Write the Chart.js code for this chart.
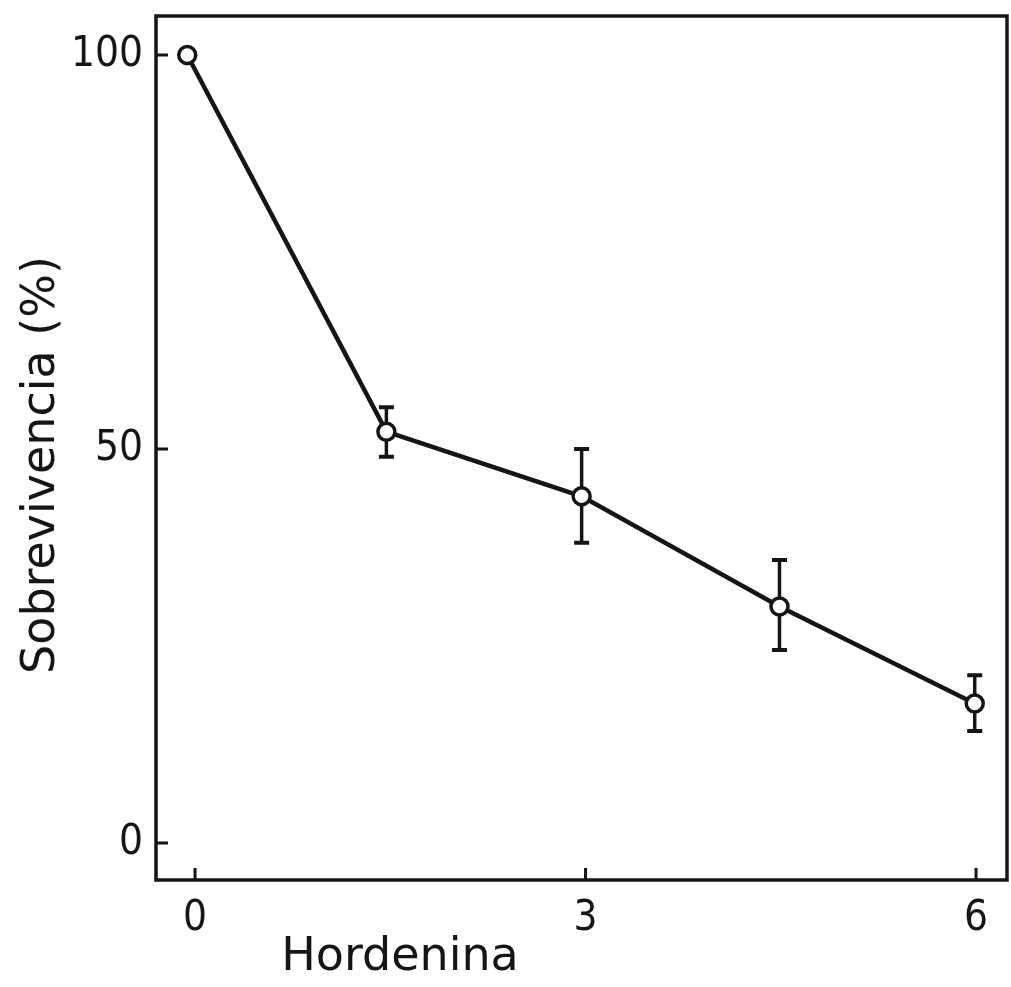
<!DOCTYPE html>
<html>
<head>
<meta charset="utf-8">
<script src="https://cdn.jsdelivr.net/npm/chart.js@4.4.1/dist/chart.umd.min.js"></script>
<style>
  html, body { margin: 0; padding: 0; background: #ffffff; }
  #wrap { width: 1011px; height: 987px; }
</style>
</head>
<body>
<div id="wrap"><canvas id="c" width="1011" height="987"></canvas></div>
<script>
// ---- data ----
const doses = [-0.06, 1.47, 2.97, 4.49, 5.99];
const survival = [100, 52.2, 44.0, 30.0, 17.7];
const errUpper = [null, 55.3, 50.0, 35.9, 21.3];
const errLower = [null, 49.0, 38.1, 24.5, 14.2];
const xTicks = [0, 3, 6];
const yTicks = [0, 50, 100];
const xTitle = 'Hordenina';
const yTitle = 'Sobrevivencia (%)';

const INK = '#151515';
const tickFont = { family: '"Liberation Sans Narrow", "DejaVu Sans Condensed", sans-serif', size: 42 };
const titleFontCss = '46px "DejaVu Sans", sans-serif';

const framePlugin = {
  id: 'frame',
  beforeDatasetsDraw(chart) {
    const ctx = chart.ctx, xs = chart.scales.x, ys = chart.scales.y;
    ctx.save();
    ctx.strokeStyle = INK;
    ctx.lineCap = 'butt';
    for (let i = 0; i < doses.length; i++) {
      if (errUpper[i] == null) continue;
      const px = xs.getPixelForValue(doses[i]);
      const top = ys.getPixelForValue(errUpper[i]);
      const bot = ys.getPixelForValue(errLower[i]);
      ctx.lineWidth = 3.5;
      ctx.beginPath(); ctx.moveTo(px, top); ctx.lineTo(px, bot); ctx.stroke();
      ctx.lineWidth = 4;
      ctx.beginPath();
      ctx.moveTo(px - 7.5, top); ctx.lineTo(px + 7.5, top);
      ctx.moveTo(px - 7.5, bot); ctx.lineTo(px + 7.5, bot);
      ctx.stroke();
    }
    ctx.restore();
  },
  afterDraw(chart) {
    const ctx = chart.ctx, a = chart.chartArea, xs = chart.scales.x, ys = chart.scales.y;
    ctx.save();
    ctx.strokeStyle = INK;
    ctx.lineWidth = 3.5;
    ctx.strokeRect(a.left, a.top, a.right - a.left, a.bottom - a.top);
    ctx.lineWidth = 3;
    ctx.beginPath();
    xTicks.forEach(v => { const p = xs.getPixelForValue(v); ctx.moveTo(p, a.bottom); ctx.lineTo(p, a.bottom - 12); });
    yTicks.forEach(v => { const p = ys.getPixelForValue(v); ctx.moveTo(a.left, p); ctx.lineTo(a.left + 12, p); });
    ctx.stroke();
    ctx.fillStyle = INK;
    ctx.font = titleFontCss;
    ctx.textAlign = 'center';
    ctx.textBaseline = 'middle';
    ctx.fillText(xTitle, 400, 958);
    ctx.translate(42, 465);
    ctx.rotate(-Math.PI / 2);
    ctx.fillText(yTitle, 0, 0);
    ctx.restore();
  }
};

new Chart(document.getElementById('c'), {
  type: 'scatter',
  data: {
    datasets: [{
      data: doses.map((d, i) => ({ x: d, y: survival[i] })),
      showLine: true,
      borderColor: INK,
      borderWidth: 4.5,
      pointRadius: 8.5,
      pointBorderWidth: 3.5,
      pointBackgroundColor: '#ffffff',
      pointBorderColor: INK,
      tension: 0,
      clip: false
    }]
  },
  options: {
    responsive: false,
    animation: false,
    devicePixelRatio: 1,
    layout: { autoPadding: false, padding: { top: 16, right: 4, left: 0, bottom: 0 } },
    plugins: { legend: { display: false }, tooltip: { enabled: false } },
    scales: {
      x: {
        type: 'linear', min: -0.30, max: 6.238,
        afterBuildTicks: s => { s.ticks = xTicks.map(v => ({ value: v })); },
        afterFit: s => { s.height = 107; s.paddingLeft = 0; s.paddingRight = 0; },
        grid: { display: false, drawTicks: false },
        border: { display: false },
        ticks: { color: INK, font: tickFont, padding: 14, maxRotation: 0 }
      },
      y: {
        type: 'linear', min: -4.70, max: 104.95,
        afterBuildTicks: s => { s.ticks = yTicks.map(v => ({ value: v })); },
        afterFit: s => { s.width = 156; s.paddingTop = 0; s.paddingBottom = 0; },
        grid: { display: false, drawTicks: false },
        border: { display: false },
        ticks: { color: INK, font: tickFont, padding: 13 }
      }
    }
  },
  plugins: [framePlugin]
});
</script>
</body>
</html>
